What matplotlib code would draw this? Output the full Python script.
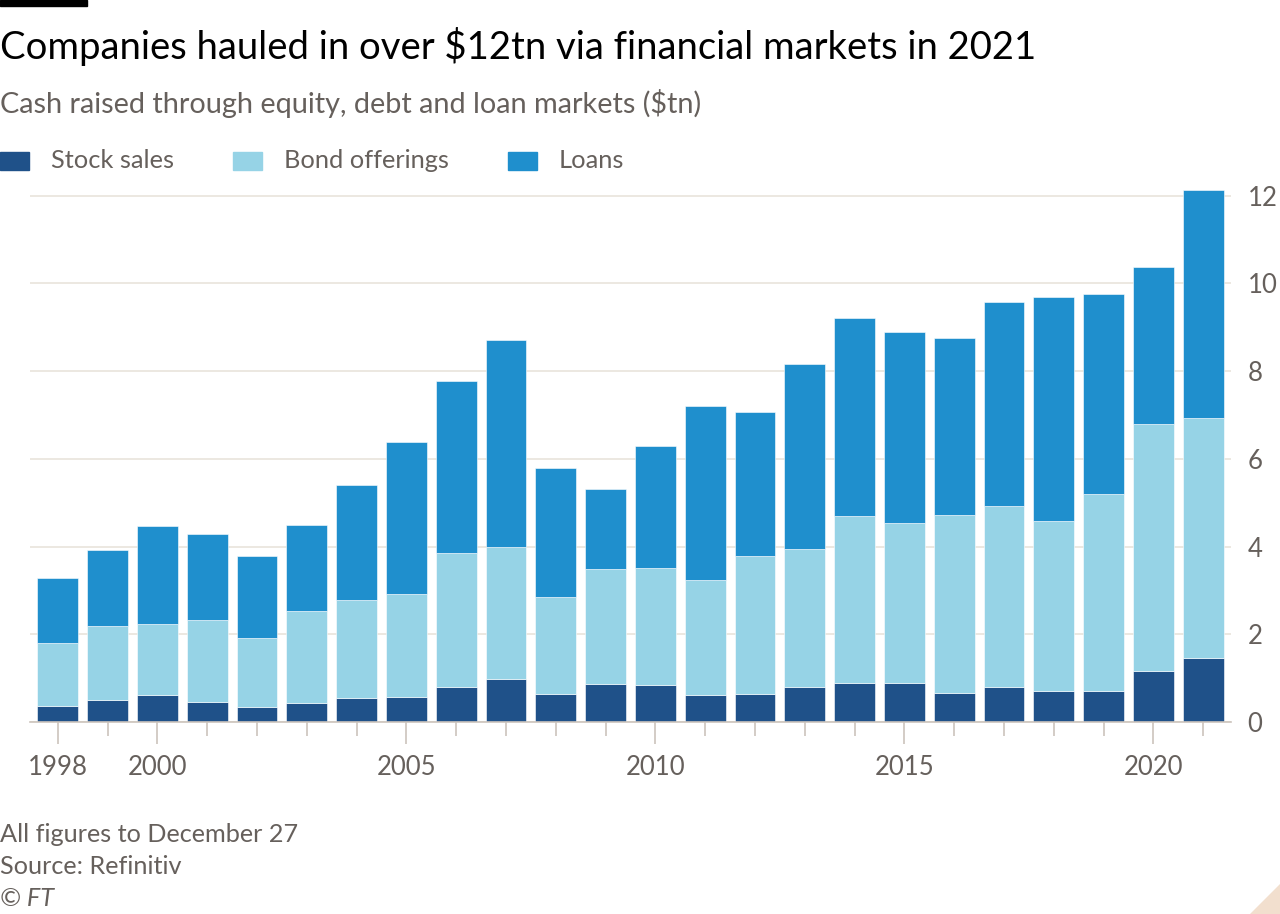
import matplotlib
matplotlib.use("Agg")
import matplotlib.pyplot as plt
import numpy as np
from matplotlib.patches import Rectangle, Polygon

plt.rcParams["font.family"] = ["Lato", "DejaVu Sans"]

years = list(range(1998, 2022))
stock = [0.37, 0.50, 0.62, 0.46, 0.34, 0.43, 0.55, 0.57, 0.80, 0.98, 0.64, 0.87,
         0.84, 0.62, 0.64, 0.80, 0.89, 0.89, 0.66, 0.80, 0.71, 0.71, 1.16, 1.46]
# cumulative tops, converted to segment sizes below
stock_bond_top = [1.80, 2.19, 2.24, 2.33, 1.92, 2.53, 2.78, 2.92, 3.86, 3.99, 2.85, 3.49,
                  3.51, 3.24, 3.79, 3.95, 4.70, 4.54, 4.72, 4.93, 4.59, 5.20, 6.80, 6.94]
totals = [3.29, 3.92, 4.47, 4.29, 3.79, 4.49, 5.41, 6.39, 7.78, 8.72, 5.80, 5.32,
          6.30, 7.21, 7.07, 8.17, 9.22, 8.90, 8.76, 9.58, 9.70, 9.76, 10.38, 12.14]
series_names = ["Stock sales", "Bond offerings", "Loans"]
colors = ["#1f5189", "#96d3e6", "#1f8fcd"]

bonds = np.array(stock_bond_top) - np.array(stock)
loans = np.array(totals) - np.array(stock_bond_top)

W, H = 1280, 914
fig = plt.figure(figsize=(W / 100, H / 100), dpi=100)
ax = fig.add_axes([30 / W, (H - 722) / H, (1231 - 30) / W, (722 - 187) / H])

x = np.array(years)
bw = 0.82
ax.bar(x, stock, width=bw, color=colors[0], edgecolor="white", linewidth=0.4, zorder=3)
ax.bar(x, bonds, width=bw, bottom=stock, color=colors[1], edgecolor="white", linewidth=0.4, zorder=3)
ax.bar(x, loans, width=bw, bottom=stock_bond_top, color=colors[2], edgecolor="white", linewidth=0.4, zorder=3)

ax.set_xlim(1997.44, 2021.56)
ax.set_ylim(0, 12.2)
ax.set_yticks(range(0, 13, 2))
ax.yaxis.tick_right()
ax.grid(axis="y", color="#e9e4dc", linewidth=1.2, zorder=0)
ax.tick_params(axis="y", length=0, pad=12, labelsize=18.5, labelcolor="#66605c")

ax.set_xticks([1998, 2000, 2005, 2010, 2015, 2020])
ax.set_xticks(years, minor=True)
ax.tick_params(axis="x", which="major", length=16, width=1.2, color="#ccc4bc",
               pad=8, labelsize=18.5, labelcolor="#66605c")
ax.tick_params(axis="x", which="minor", length=10, width=1.2, color="#ccc4bc")

for s in ["top", "right", "left"]:
    ax.spines[s].set_visible(False)
ax.spines["bottom"].set_color("#ccc4bc")
ax.spines["bottom"].set_linewidth(1.2)
ax.spines["bottom"].set_zorder(4)

# header
fig.add_artist(Rectangle((0, 1 - 6 / H), 87 / W, 6 / H, transform=fig.transFigure,
                         color="black"))
fig.text(0, 1 - 46 / H, "Companies hauled in over $12tn via financial markets in 2021",
         fontsize=27.5, color="#000000", va="center", ha="left")
fig.text(0, 1 - 104 / H, "Cash raised through equity, debt and loan markets ($tn)",
         fontsize=20.8, color="#66605c", va="center", ha="left")

# legend
leg_x = [0, 233, 508]
for lx, name, c in zip(leg_x, series_names, colors):
    fig.add_artist(Rectangle((lx / W, 1 - 170 / H), 29 / W, 18 / H,
                             transform=fig.transFigure, color=c))
    fig.text((lx + 51) / W, 1 - 161 / H, name, fontsize=18.3, color="#66605c",
             va="center", ha="left")

# footer
fig.text(0, 1 - 834 / H, "All figures to December 27", fontsize=18.2, color="#66605c", va="center")
fig.text(0, 1 - 866 / H, "Source: Refinitiv", fontsize=18.2, color="#66605c", va="center")
fig.text(0, 1 - 899 / H, "© FT", fontsize=18.2, color="#66605c", va="center", style="italic")

fig.add_artist(Polygon([(1 - 30 / W, 0), (1, 0), (1, 30 / H)], closed=True,
                       transform=fig.transFigure, color="#f2dfce"))

fig.savefig("out.png", dpi=100, facecolor="white")
